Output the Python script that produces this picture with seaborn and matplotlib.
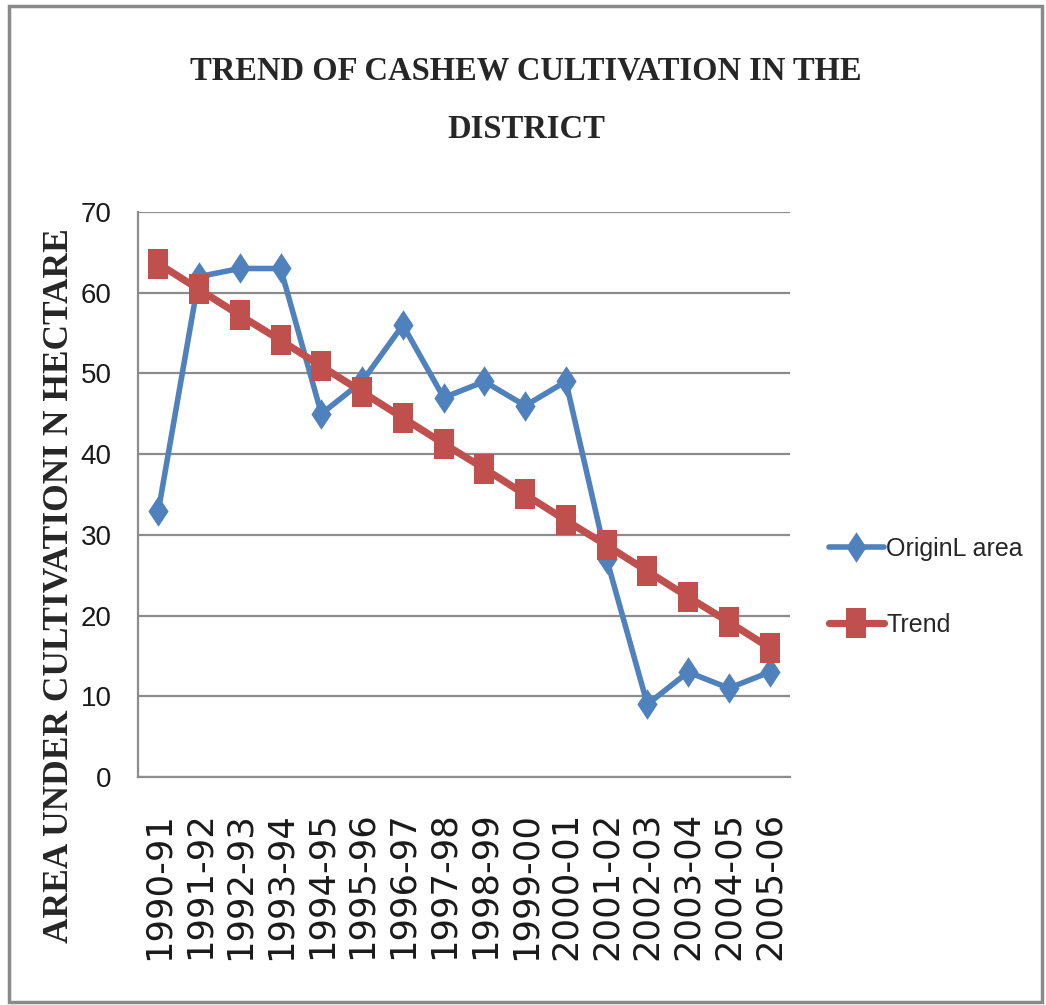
import matplotlib
matplotlib.use("Agg")
import matplotlib.pyplot as plt
import seaborn as sns
import pandas as pd
from matplotlib.patches import Rectangle

years = ["1990-91", "1991-92", "1992-93", "1993-94", "1994-95", "1995-96",
         "1996-97", "1997-98", "1998-99", "1999-00", "2000-01", "2001-02",
         "2002-03", "2003-04", "2004-05", "2005-06"]
original_area = [33, 62, 63, 63, 45, 49, 56, 47, 49, 46, 49, 27, 9, 13, 11, 13]
trend = [63.6, 60.4, 57.2, 54.1, 50.9, 47.7, 44.5, 41.3, 38.2, 35.0, 31.8,
         28.7, 25.5, 22.3, 19.2, 16.0]
series_names = ["OriginL area", "Trend"]
series_colors = ["#4F81BD", "#C0504D"]
title_text = "TREND OF CASHEW CULTIVATION IN THE\nDISTRICT"
ylabel_text = "AREA UNDER CULTIVATIONI N HECTARE"
y_ticks = [0, 10, 20, 30, 40, 50, 60, 70]

sns.set_style("white")
sans = "Liberation Sans"

df = pd.DataFrame({
    "Year": years + years,
    "Area": original_area + trend,
    "Series": [series_names[0]] * len(years) + [series_names[1]] * len(years),
})

W, H = 1046, 1005
fig = plt.figure(figsize=(W / 100, H / 100), dpi=100)
ax = fig.add_axes([138 / W, 1 - 777 / H, (790 - 138) / W, (777 - 212) / H])

diamond = [(0, 0.5), (0.33, 0), (0, -0.5), (-0.33, 0), (0, 0.5)]
rect = [(-0.33, -0.5), (0.33, -0.5), (0.33, 0.5), (-0.33, 0.5), (-0.33, -0.5)]

sns.lineplot(data=df, x="Year", y="Area", hue="Series", style="Series",
             palette=dict(zip(series_names, series_colors)),
             markers={series_names[0]: diamond, series_names[1]: rect},
             dashes=False, markersize=22, markeredgewidth=0,
             legend=False, sort=False, ax=ax)
ax.lines[0].set_linewidth(4.0)
ax.lines[1].set_linewidth(5.2)

grid_c = "#8c8c8c"
ax.set_ylim(0, 70)
ax.set_xlim(-0.5, len(years) - 0.5)
ax.set_yticks(y_ticks)
ax.yaxis.grid(True, color=grid_c, lw=1.6)
ax.xaxis.grid(False)
ax.set_axisbelow(True)
for s in ["top", "right"]:
    ax.spines[s].set_visible(False)
for s in ["left", "bottom"]:
    ax.spines[s].set_color(grid_c)
    ax.spines[s].set_linewidth(1.6)
ax.set_xlabel("")
ax.set_ylabel("")
ax.tick_params(axis="both", length=0)
ax.tick_params(axis="y", pad=19)
ax.tick_params(axis="x", pad=25)
for lab in ax.get_yticklabels():
    lab.set_fontfamily(sans)
    lab.set_fontsize(20)
    lab.set_color("#1a1a1a")
ax.set_xticks(range(len(years)))
ax.set_xticklabels(years, rotation=90, fontsize=25.5, family="DejaVu Sans", color="#1a1a1a")

fig.text(0.503, 0.90, title_text, ha="center", va="center",
         family="Liberation Serif", weight="bold", fontsize=23.5, linespacing=2.15)
fig.text(60 / W, 0.417, ylabel_text, rotation=90, ha="center", va="center",
         family="Liberation Serif", weight="bold", fontsize=25.5)

fig.legend(handles=[ax.lines[0], ax.lines[1]], labels=series_names,
           loc="center left", bbox_to_anchor=(816 / W, 1 - 587 / H),
           frameon=False, prop=dict(family=sans, size=18),
           handlelength=2.2, handletextpad=0.12, labelspacing=2.1,
           borderpad=0, numpoints=1)

fig.add_artist(Rectangle((9 / W, 3 / H), (1042 - 9) / W, (999 - 3) / H,
                         transform=fig.transFigure, fill=False,
                         ec="#8a8a8a", lw=2.5))

fig.savefig("out.png", dpi=100)
